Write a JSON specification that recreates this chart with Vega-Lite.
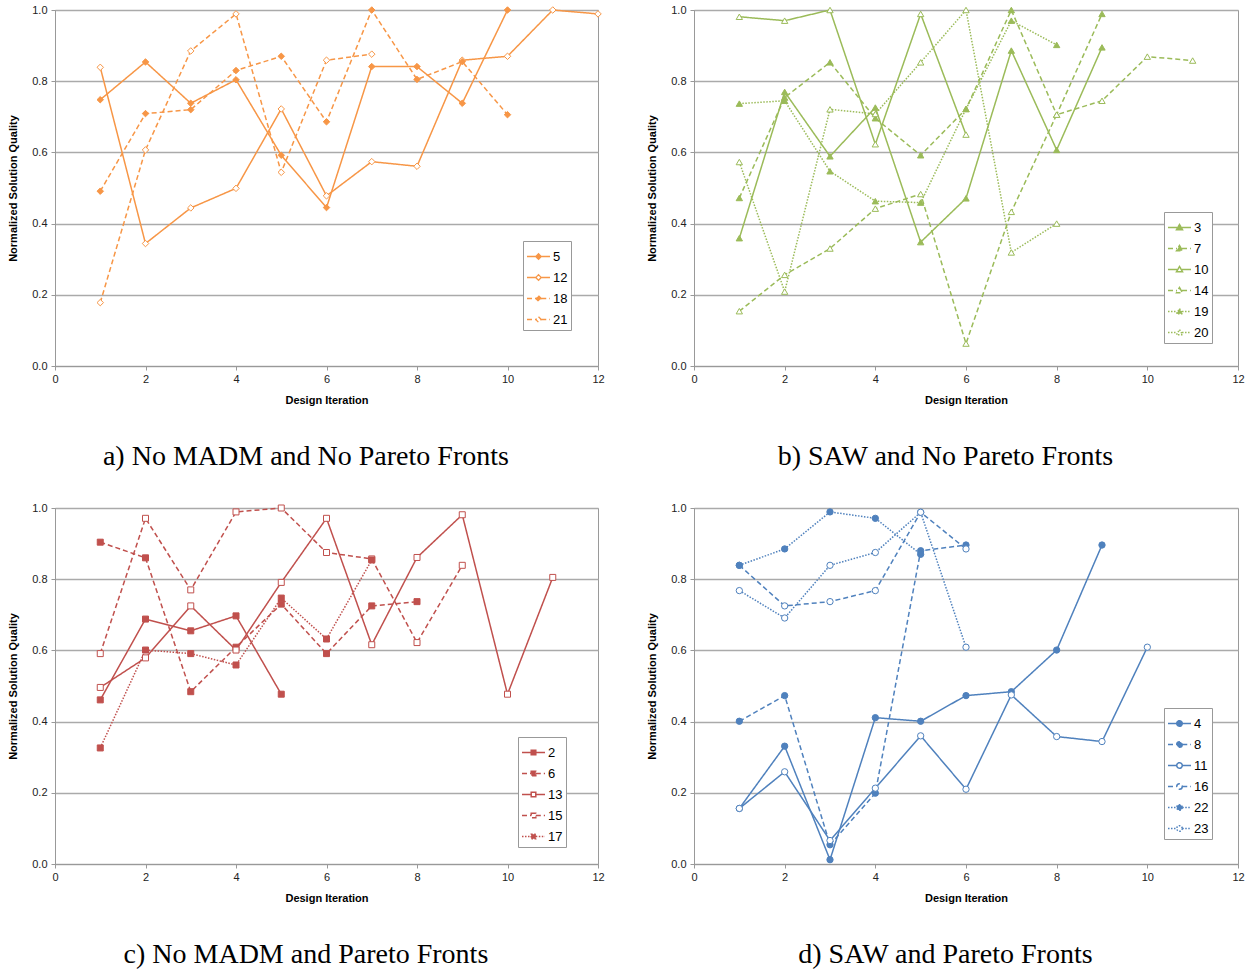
{
  "$schema": "https://vega.github.io/schema/vega-lite/v6.json",
  "padding": {"left": 7, "top": 3, "right": 3, "bottom": 0},
  "background": "white",
  "columns": 2,
  "spacing": {"row": 29, "column": 41},
  "resolve": {
    "scale": {"fill": "independent", "strokeDash": "independent", "strokeWidth": "independent"},
    "legend": {"fill": "independent", "strokeDash": "independent"}
  },
  "config": {
    "font": "Liberation Sans",
    "view": {"stroke": "#9a9a9a", "strokeWidth": 1},
    "axis": {
      "labelFont": "Liberation Sans", "labelFontSize": 11, "labelColor": "#222",
      "titleFont": "Liberation Sans", "titleFontSize": 11, "titleFontWeight": "bold", "titleColor": "#000",
      "domainColor": "#999", "tickColor": "#999", "tickSize": 4, "gridColor": "#aaaaaa", "gridWidth": 1.5
    },
    "axisX": {"grid": false, "labelPadding": 3, "titlePadding": 10, "labelFlush": false},
    "axisY": {"labelPadding": 4, "titlePadding": 13},
    "legend": {
      "orient": "none", "title": null, "labelFont": "Liberation Sans", "labelFontSize": 13, "labelColor": "#000",
      "strokeColor": "#999", "fillColor": "white", "padding": 3, "rowPadding": 1, "labelOffset": 2,
      "symbolSize": 529, "symbolStrokeWidth": 1.3
    },
    "title": {"font": "Liberation Serif", "fontSize": 28, "fontWeight": "normal", "color": "#000", "orient": "bottom", "anchor": "middle", "frame": "bounds", "offset": 38}
  },
  "datasets": {
    "a": [
      {"x":1,"y":0.748,"s":"5"},{"x":2,"y":0.854,"s":"5"},{"x":3,"y":0.738,"s":"5"},{"x":4,"y":0.804,"s":"5"},{"x":5,"y":0.592,"s":"5"},{"x":6,"y":0.445,"s":"5"},{"x":7,"y":0.841,"s":"5"},{"x":8,"y":0.841,"s":"5"},{"x":9,"y":0.738,"s":"5"},{"x":10,"y":1.0,"s":"5"},
      {"x":1,"y":0.839,"s":"12"},{"x":2,"y":0.344,"s":"12"},{"x":3,"y":0.444,"s":"12"},{"x":4,"y":0.499,"s":"12"},{"x":5,"y":0.722,"s":"12"},{"x":6,"y":0.478,"s":"12"},{"x":7,"y":0.574,"s":"12"},{"x":8,"y":0.561,"s":"12"},{"x":9,"y":0.859,"s":"12"},{"x":10,"y":0.870,"s":"12"},{"x":11,"y":1.0,"s":"12"},{"x":12,"y":0.989,"s":"12"},
      {"x":1,"y":0.491,"s":"18"},{"x":2,"y":0.709,"s":"18"},{"x":3,"y":0.720,"s":"18"},{"x":4,"y":0.830,"s":"18"},{"x":5,"y":0.870,"s":"18"},{"x":6,"y":0.686,"s":"18"},{"x":7,"y":1.0,"s":"18"},{"x":8,"y":0.805,"s":"18"},{"x":9,"y":0.855,"s":"18"},{"x":10,"y":0.706,"s":"18"},
      {"x":1,"y":0.178,"s":"21"},{"x":2,"y":0.607,"s":"21"},{"x":3,"y":0.885,"s":"21"},{"x":4,"y":0.989,"s":"21"},{"x":5,"y":0.544,"s":"21"},{"x":6,"y":0.859,"s":"21"},{"x":7,"y":0.876,"s":"21"}
    ],
    "b": [
      {"x":1,"y":0.359,"s":"3"},{"x":2,"y":0.770,"s":"3"},{"x":3,"y":0.589,"s":"3"},{"x":4,"y":0.726,"s":"3"},{"x":5,"y":0.348,"s":"3"},{"x":6,"y":0.471,"s":"3"},{"x":7,"y":0.886,"s":"3"},{"x":8,"y":0.607,"s":"3"},{"x":9,"y":0.895,"s":"3"},
      {"x":1,"y":0.472,"s":"7"},{"x":2,"y":0.754,"s":"7"},{"x":3,"y":0.853,"s":"7"},{"x":4,"y":0.696,"s":"7"},{"x":5,"y":0.592,"s":"7"},{"x":6,"y":0.722,"s":"7"},{"x":7,"y":1.0,"s":"7"},{"x":8,"y":0.706,"s":"7"},{"x":9,"y":0.989,"s":"7"},
      {"x":1,"y":0.981,"s":"10"},{"x":2,"y":0.970,"s":"10"},{"x":3,"y":1.0,"s":"10"},{"x":4,"y":0.623,"s":"10"},{"x":5,"y":0.989,"s":"10"},{"x":6,"y":0.650,"s":"10"},
      {"x":1,"y":0.154,"s":"14"},{"x":2,"y":0.256,"s":"14"},{"x":3,"y":0.330,"s":"14"},{"x":4,"y":0.442,"s":"14"},{"x":5,"y":0.483,"s":"14"},{"x":6,"y":0.063,"s":"14"},{"x":7,"y":0.433,"s":"14"},{"x":8,"y":0.706,"s":"14"},{"x":9,"y":0.745,"s":"14"},{"x":10,"y":0.869,"s":"14"},{"x":11,"y":0.858,"s":"14"},
      {"x":1,"y":0.737,"s":"19"},{"x":2,"y":0.745,"s":"19"},{"x":3,"y":0.547,"s":"19"},{"x":4,"y":0.463,"s":"19"},{"x":5,"y":0.459,"s":"19"},{"x":6,"y":0.722,"s":"19"},{"x":7,"y":0.970,"s":"19"},{"x":8,"y":0.902,"s":"19"},
      {"x":1,"y":0.573,"s":"20"},{"x":2,"y":0.209,"s":"20"},{"x":3,"y":0.721,"s":"20"},{"x":4,"y":0.708,"s":"20"},{"x":5,"y":0.853,"s":"20"},{"x":6,"y":1.0,"s":"20"},{"x":7,"y":0.319,"s":"20"},{"x":8,"y":0.400,"s":"20"}
    ],
    "c": [
      {"x":1,"y":0.461,"s":"2"},{"x":2,"y":0.688,"s":"2"},{"x":3,"y":0.655,"s":"2"},{"x":4,"y":0.697,"s":"2"},{"x":5,"y":0.477,"s":"2"},
      {"x":1,"y":0.904,"s":"6"},{"x":2,"y":0.860,"s":"6"},{"x":3,"y":0.484,"s":"6"},{"x":4,"y":0.609,"s":"6"},{"x":5,"y":0.730,"s":"6"},{"x":6,"y":0.591,"s":"6"},{"x":7,"y":0.725,"s":"6"},{"x":8,"y":0.737,"s":"6"},
      {"x":1,"y":0.496,"s":"13"},{"x":2,"y":0.579,"s":"13"},{"x":3,"y":0.725,"s":"13"},{"x":4,"y":0.601,"s":"13"},{"x":5,"y":0.791,"s":"13"},{"x":6,"y":0.971,"s":"13"},{"x":7,"y":0.616,"s":"13"},{"x":8,"y":0.861,"s":"13"},{"x":9,"y":0.981,"s":"13"},{"x":10,"y":0.477,"s":"13"},{"x":11,"y":0.805,"s":"13"},
      {"x":1,"y":0.591,"s":"15"},{"x":2,"y":0.971,"s":"15"},{"x":3,"y":0.770,"s":"15"},{"x":4,"y":0.989,"s":"15"},{"x":5,"y":1.0,"s":"15"},{"x":6,"y":0.875,"s":"15"},{"x":7,"y":0.857,"s":"15"},{"x":8,"y":0.622,"s":"15"},{"x":9,"y":0.839,"s":"15"},
      {"x":1,"y":0.326,"s":"17"},{"x":2,"y":0.601,"s":"17"},{"x":3,"y":0.591,"s":"17"},{"x":4,"y":0.559,"s":"17"},{"x":5,"y":0.747,"s":"17"},{"x":6,"y":0.632,"s":"17"},{"x":7,"y":0.854,"s":"17"}
    ],
    "d": [
      {"x":1,"y":0.156,"s":"4"},{"x":2,"y":0.331,"s":"4"},{"x":3,"y":0.012,"s":"4"},{"x":4,"y":0.411,"s":"4"},{"x":5,"y":0.401,"s":"4"},{"x":6,"y":0.473,"s":"4"},{"x":7,"y":0.484,"s":"4"},{"x":8,"y":0.601,"s":"4"},{"x":9,"y":0.896,"s":"4"},
      {"x":1,"y":0.401,"s":"8"},{"x":2,"y":0.473,"s":"8"},{"x":3,"y":0.054,"s":"8"},{"x":4,"y":0.199,"s":"8"},{"x":5,"y":0.880,"s":"8"},{"x":6,"y":0.896,"s":"8"},
      {"x":1,"y":0.156,"s":"11"},{"x":2,"y":0.259,"s":"11"},{"x":3,"y":0.066,"s":"11"},{"x":4,"y":0.213,"s":"11"},{"x":5,"y":0.360,"s":"11"},{"x":6,"y":0.210,"s":"11"},{"x":7,"y":0.475,"s":"11"},{"x":8,"y":0.358,"s":"11"},{"x":9,"y":0.344,"s":"11"},{"x":10,"y":0.609,"s":"11"},
      {"x":1,"y":0.839,"s":"16"},{"x":2,"y":0.725,"s":"16"},{"x":3,"y":0.737,"s":"16"},{"x":4,"y":0.768,"s":"16"},{"x":5,"y":0.988,"s":"16"},{"x":6,"y":0.885,"s":"16"},
      {"x":1,"y":0.839,"s":"22"},{"x":2,"y":0.885,"s":"22"},{"x":3,"y":0.989,"s":"22"},{"x":4,"y":0.971,"s":"22"},{"x":5,"y":0.870,"s":"22"},
      {"x":1,"y":0.768,"s":"23"},{"x":2,"y":0.691,"s":"23"},{"x":3,"y":0.839,"s":"23"},{"x":4,"y":0.875,"s":"23"},{"x":5,"y":0.988,"s":"23"},{"x":6,"y":0.609,"s":"23"}
    ]
  },
  "concat": [
    {
      "width": 543, "height": 356,
      "title": {"text": "a) No MADM and No Pareto Fronts"},
      "encoding": {
        "x": {"field": "x", "type": "quantitative", "scale": {"domain": [0, 12]}, "axis": {"values": [0,2,4,6,8,10,12], "title": "Design Iteration"}},
        "y": {"field": "y", "type": "quantitative", "scale": {"domain": [0, 1]}, "axis": {"values": [0,0.2,0.4,0.6,0.8,1], "format": ".1f", "title": "Normalized Solution Quality"}}
      },
      "layer": [
        {
          "data": {"name": "a"}, "transform": [{"filter": "false"}],
          "mark": {"type": "point", "filled": true, "opacity": 1, "stroke": "#F79646", "strokeWidth": 1.3},
          "encoding": {
            "fill": {"field": "s", "type": "nominal", "scale": {"domain": ["5","12","18","21"], "range": ["#F79646","white","#F79646","white"]},
              "legend": {"legendX": 468, "legendY": 231, "symbolType": "M-1,0L-0.24,0M0.24,0L1,0M0,-0.24L0.24,0L0,0.24L-0.24,0Z"}},
            "strokeDash": {"field": "s", "type": "nominal", "scale": {"domain": ["5","12","18","21"], "range": [[1,0],[1,0],[5,3],[5,3]]},
              "legend": {"legendX": 468, "legendY": 231, "symbolType": "M-1,0L-0.24,0M0.24,0L1,0M0,-0.24L0.24,0L0,0.24L-0.24,0Z"}}
          }
        },
        {
          "data": {"name": "a"},
          "mark": {"type": "line", "color": "#F79646", "strokeWidth": 1.5},
          "encoding": {
            "strokeDash": {"field": "s", "type": "nominal", "legend": null}
          }
        },
        {
          "data": {"name": "a"},
          "mark": {"type": "point", "filled": true, "shape": "diamond", "size": 42, "opacity": 1, "stroke": "#F79646", "strokeWidth": 1},
          "encoding": {
            "fill": {"field": "s", "type": "nominal", "legend": null}
          }
        }
      ]
    },
    {
      "width": 544, "height": 356,
      "title": {"text": "b) SAW and No Pareto Fronts"},
      "encoding": {
        "x": {"field": "x", "type": "quantitative", "scale": {"domain": [0, 12]}, "axis": {"values": [0,2,4,6,8,10,12], "title": "Design Iteration"}},
        "y": {"field": "y", "type": "quantitative", "scale": {"domain": [0, 1]}, "axis": {"values": [0,0.2,0.4,0.6,0.8,1], "format": ".1f", "title": "Normalized Solution Quality"}}
      },
      "layer": [
        {
          "data": {"name": "b"}, "transform": [{"filter": "false"}],
          "mark": {"type": "point", "filled": true, "opacity": 1, "stroke": "#9BBB59", "strokeWidth": 1.3},
          "encoding": {
            "fill": {"field": "s", "type": "nominal", "scale": {"domain": ["3","7","10","14","19","20"], "range": ["#9BBB59","#9BBB59","white","white","#9BBB59","white"]},
              "legend": {"legendX": 470, "legendY": 202, "symbolType": "M-1,0L-0.22,0M0.22,0L1,0M0,-0.26L0.26,0.19L-0.26,0.19Z"}},
            "strokeDash": {"field": "s", "type": "nominal", "scale": {"domain": ["3","7","10","14","19","20"], "range": [[1,0],[5,3],[1,0],[5,3],[1.5,1.5],[1.5,1.5]]},
              "legend": {"legendX": 470, "legendY": 202, "symbolType": "M-1,0L-0.22,0M0.22,0L1,0M0,-0.26L0.26,0.19L-0.26,0.19Z"}}
          }
        },
        {
          "data": {"name": "b"},
          "mark": {"type": "line", "color": "#9BBB59"},
          "encoding": {
            "strokeDash": {"field": "s", "type": "nominal", "legend": null},
            "strokeWidth": {"field": "s", "type": "nominal", "legend": null, "scale": {"domain": ["3","7","10","14","19","20"], "range": [1.5,1.5,1.5,1.5,1,1]}}
          }
        },
        {
          "data": {"name": "b"},
          "mark": {"type": "point", "filled": true, "shape": "triangle-up", "size": 40, "opacity": 1, "stroke": "#9BBB59", "strokeWidth": 1},
          "encoding": {
            "fill": {"field": "s", "type": "nominal", "legend": null}
          }
        }
      ]
    },
    {
      "width": 543, "height": 356,
      "title": {"text": "c) No MADM and Pareto Fronts"},
      "encoding": {
        "x": {"field": "x", "type": "quantitative", "scale": {"domain": [0, 12]}, "axis": {"values": [0,2,4,6,8,10,12], "title": "Design Iteration"}},
        "y": {"field": "y", "type": "quantitative", "scale": {"domain": [0, 1]}, "axis": {"values": [0,0.2,0.4,0.6,0.8,1], "format": ".1f", "title": "Normalized Solution Quality"}}
      },
      "layer": [
        {
          "data": {"name": "c"}, "transform": [{"filter": "false"}],
          "mark": {"type": "point", "filled": true, "opacity": 1, "stroke": "#C0504D", "strokeWidth": 1.3},
          "encoding": {
            "fill": {"field": "s", "type": "nominal", "scale": {"domain": ["2","6","13","15","17"], "range": ["#C0504D","#C0504D","white","white","#C0504D"]},
              "legend": {"legendX": 463, "legendY": 229, "symbolType": "M-1,0L-0.2,0M0.2,0L1,0M-0.2,-0.2L0.2,-0.2L0.2,0.2L-0.2,0.2Z"}},
            "strokeDash": {"field": "s", "type": "nominal", "scale": {"domain": ["2","6","13","15","17"], "range": [[1,0],[5,3],[1,0],[5,3],[1.5,1.5]]},
              "legend": {"legendX": 463, "legendY": 229, "symbolType": "M-1,0L-0.2,0M0.2,0L1,0M-0.2,-0.2L0.2,-0.2L0.2,0.2L-0.2,0.2Z"}}
          }
        },
        {
          "data": {"name": "c"},
          "mark": {"type": "line", "color": "#C0504D"},
          "encoding": {
            "strokeDash": {"field": "s", "type": "nominal", "legend": null},
            "strokeWidth": {"field": "s", "type": "nominal", "legend": null, "scale": {"domain": ["2","6","13","15","17"], "range": [1.5,1.5,1.5,1.5,1]}}
          }
        },
        {
          "data": {"name": "c"},
          "mark": {"type": "point", "filled": true, "shape": "square", "size": 36, "opacity": 1, "stroke": "#C0504D", "strokeWidth": 1},
          "encoding": {
            "fill": {"field": "s", "type": "nominal", "legend": null}
          }
        }
      ]
    },
    {
      "width": 544, "height": 356,
      "title": {"text": "d) SAW and Pareto Fronts"},
      "encoding": {
        "x": {"field": "x", "type": "quantitative", "scale": {"domain": [0, 12]}, "axis": {"values": [0,2,4,6,8,10,12], "title": "Design Iteration"}},
        "y": {"field": "y", "type": "quantitative", "scale": {"domain": [0, 1]}, "axis": {"values": [0,0.2,0.4,0.6,0.8,1], "format": ".1f", "title": "Normalized Solution Quality"}}
      },
      "layer": [
        {
          "data": {"name": "d"}, "transform": [{"filter": "false"}],
          "mark": {"type": "point", "filled": true, "opacity": 1, "stroke": "#4F81BD", "strokeWidth": 1.3},
          "encoding": {
            "fill": {"field": "s", "type": "nominal", "scale": {"domain": ["4","8","11","16","22","23"], "range": ["#4F81BD","#4F81BD","white","white","#4F81BD","white"]},
              "legend": {"legendX": 470, "legendY": 200, "symbolType": "M-1,0L-0.24,0M0.24,0L1,0M0.24,0A0.24,0.24,0,1,1,-0.24,0A0.24,0.24,0,1,1,0.24,0Z"}},
            "strokeDash": {"field": "s", "type": "nominal", "scale": {"domain": ["4","8","11","16","22","23"], "range": [[1,0],[5,3],[1,0],[5,3],[1.5,1.5],[1.5,1.5]]},
              "legend": {"legendX": 470, "legendY": 200, "symbolType": "M-1,0L-0.24,0M0.24,0L1,0M0.24,0A0.24,0.24,0,1,1,-0.24,0A0.24,0.24,0,1,1,0.24,0Z"}}
          }
        },
        {
          "data": {"name": "d"},
          "mark": {"type": "line", "color": "#4F81BD"},
          "encoding": {
            "strokeDash": {"field": "s", "type": "nominal", "legend": null},
            "strokeWidth": {"field": "s", "type": "nominal", "legend": null, "scale": {"domain": ["4","8","11","16","22","23"], "range": [1.5,1.5,1.5,1.5,1,1]}}
          }
        },
        {
          "data": {"name": "d"},
          "mark": {"type": "point", "filled": true, "shape": "circle", "size": 40, "opacity": 1, "stroke": "#4F81BD", "strokeWidth": 1},
          "encoding": {
            "fill": {"field": "s", "type": "nominal", "legend": null}
          }
        }
      ]
    }
  ]
}
